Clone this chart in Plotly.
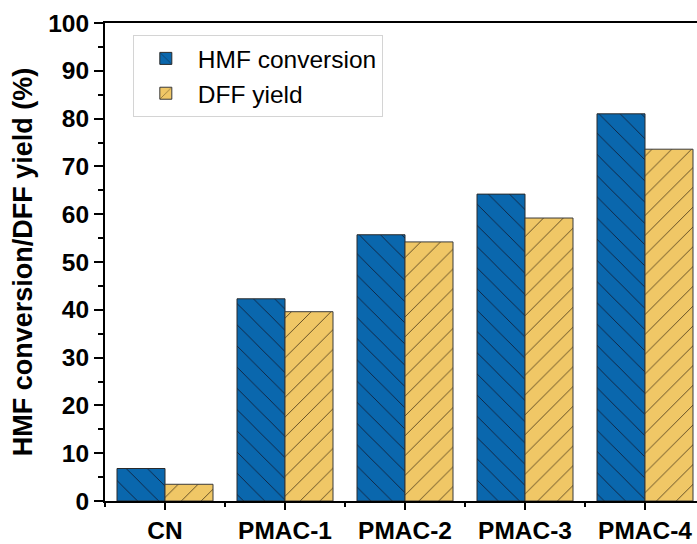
import plotly.graph_objects as go

# Catalyst samples and measured performance (%)
categories = ["CN", "PMAC-1", "PMAC-2", "PMAC-3", "PMAC-4"]
hmf_conversion = [6.8, 42.3, 55.7, 64.2, 81.0]
dff_yield = [3.5, 39.6, 54.2, 59.2, 73.6]
y_ticks = [0, 10, 20, 30, 40, 50, 60, 70, 80, 90, 100]

positions = list(range(len(categories)))
FONT = "Arial, Liberation Sans, sans-serif"
BLUE = "#0a67ad"
GOLD = "#f0c766"

fig = go.Figure()
fig.add_trace(go.Bar(
    x=positions, y=hmf_conversion, name="HMF conversion",
    marker=dict(
        color=BLUE,
        line=dict(color="#2a2a2a", width=1),
        pattern=dict(shape="\\", size=15, solidity=0.06,
                     fgcolor="#10203a", bgcolor=BLUE, fillmode="replace"),
    ),
))
fig.add_trace(go.Bar(
    x=positions, y=dff_yield, name="DFF yield",
    marker=dict(
        color=GOLD,
        line=dict(color="#3a3a3a", width=1),
        pattern=dict(shape="/", size=14, solidity=0.06,
                     fgcolor="#4a3a1a", bgcolor=GOLD, fillmode="replace"),
    ),
))

fig.update_layout(
    width=697, height=544,
    margin=dict(l=105, r=0, t=23, b=38.5),
    paper_bgcolor="white", plot_bgcolor="white",
    barmode="group", bargap=0.2, bargroupgap=0,
    font=dict(family=FONT, color="black"),
    showlegend=True,
    legend=dict(
        x=0.047, y=0.975, xanchor="left", yanchor="top",
        bgcolor="white", bordercolor="#d4d4d4", borderwidth=1,
        font=dict(family=FONT, size=24.5, color="black"),
        tracegroupgap=0, itemwidth=54,
    ),
)

fig.update_xaxes(
    range=[-0.5, -0.5 + 592 / 120], autorange=False,
    tickmode="array", tickvals=positions, ticktext=categories,
    tickfont=dict(family=FONT, size=24.5, color="black", weight="bold"),
    showline=True, linecolor="black", linewidth=2, mirror=True,
    ticks="outside", ticklen=7, tickwidth=2, tickcolor="black",
    minor=dict(tickmode="linear", tick0=0.5, dtick=1, ticks="outside",
               ticklen=4, tickwidth=2, tickcolor="black", showgrid=False),
    showgrid=False, zeroline=False,
)

fig.update_yaxes(
    range=[0, 100], autorange=False,
    tickmode="array", tickvals=y_ticks,
    tickfont=dict(family=FONT, size=24.5, color="black", weight="bold"),
    showline=True, linecolor="black", linewidth=2,
    ticks="outside", ticklen=9, tickwidth=2, tickcolor="black",
    minor=dict(tickmode="linear", tick0=5, dtick=10, ticks="outside",
               ticklen=5, tickwidth=2, tickcolor="black", showgrid=False),
    showgrid=False, zeroline=False,
    title=dict(text="HMF conversion/DFF yield (%)", standoff=8,
               font=dict(family=FONT, size=27, color="black", weight="bold")),
    automargin=False,
)

fig.write_html("out.html")
